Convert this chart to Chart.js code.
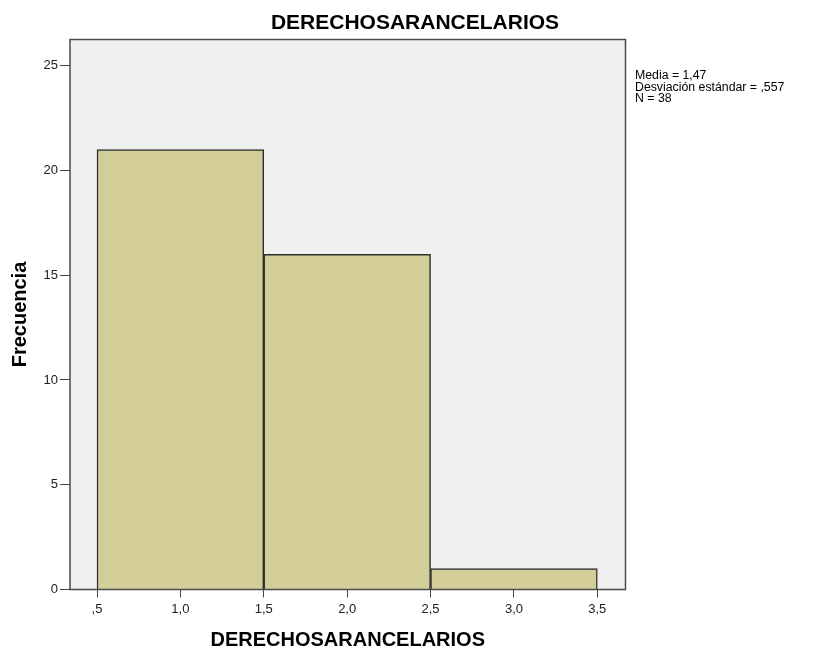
<!DOCTYPE html>
<html>
<head>
<meta charset="utf-8">
<script src="https://cdn.jsdelivr.net/npm/chart.js@4/dist/chart.umd.min.js"></script>
<style>
  html, body { margin: 0; padding: 0; background: #ffffff; }
  #wrap { width: 813px; height: 648px; }
</style>
</head>
<body>
<div id="wrap"><canvas id="c" width="813" height="648"></canvas></div>
<script>
// ---- data ----
const chartTitle = 'DERECHOSARANCELARIOS';
const xAxisTitle = 'DERECHOSARANCELARIOS';
const yAxisTitle = 'Frecuencia';
const binCenters = [1, 2, 3];
const frequencies = [21, 16, 1];
const xTickLabels = [',5', '1,0', '1,5', '2,0', '2,5', '3,0', '3,5'];
const statsLines = ['Media = 1,47', 'Desviación estándar = ,557', 'N = 38'];

const FONT = "'Liberation Sans', Arial, sans-serif";

const framePlugin = {
  id: 'frame',
  beforeDraw(chart) {
    const a = chart.chartArea, ctx = chart.ctx;
    ctx.save();
    ctx.fillStyle = '#f0f0f0';
    ctx.fillRect(a.left, a.top, a.right - a.left, a.bottom - a.top);
    ctx.restore();
  },
  afterDatasetsDraw(chart) {
    const a = chart.chartArea, ctx = chart.ctx;
    ctx.save();
    ctx.strokeStyle = '#4a4a4a';
    ctx.lineWidth = 1.5;
    ctx.strokeRect(a.left, a.top, a.right - a.left, a.bottom - a.top);
    ctx.restore();
  },
  afterDraw(chart) {
    const ctx = chart.ctx;
    ctx.save();
    ctx.fillStyle = '#000';
    ctx.font = 'bold 21px ' + FONT;
    ctx.textAlign = 'center';
    ctx.textBaseline = 'middle';
    ctx.fillText(chartTitle, 415, 23);
    ctx.font = '12.3px ' + FONT;
    ctx.textAlign = 'left';
    ctx.textBaseline = 'alphabetic';
    statsLines.forEach((t, i) => ctx.fillText(t, 635, 79 + i * 11.5));
    ctx.restore();
  }
};

new Chart(document.getElementById('c'), {
  type: 'bar',
  data: {
    datasets: [{
      data: binCenters.map((x, i) => ({ x: x, y: frequencies[i] })),
      backgroundColor: '#d3ce98',
      borderColor: '#2e2e2e',
      borderWidth: 1.5,
      barPercentage: 1,
      categoryPercentage: 1,
      barThickness: 'flex'
    }]
  },
  options: {
    responsive: false,
    devicePixelRatio: 1,
    animation: false,
    layout: { padding: { top: 39.5, right: 187.5, left: 0, bottom: 0 } },
    plugins: {
      legend: { display: false },
      title: { display: false },
      tooltip: { enabled: false }
    },
    scales: {
      x: {
        type: 'linear',
        min: 0.338,
        max: 3.669,
        offset: false,
        ticks: {
          stepSize: 0.5,
          includeBounds: false,
          autoSkip: false,
          maxRotation: 0,
          padding: 4,
          color: '#222',
          font: { family: FONT, size: 13 },
          callback: (v, i) => xTickLabels[i]
        },
        grid: { display: true, offset: false, drawOnChartArea: false, drawTicks: true, tickLength: 8, color: '#444', lineWidth: 1 },
        border: { display: false },
        title: {
          display: true,
          text: xAxisTitle,
          color: '#000',
          font: { family: FONT, size: 20, weight: 'bold', lineHeight: 1.2 },
          padding: { top: 0, bottom: -4 }
        },
        afterFit(s) { s.height = 58.5; s.paddingLeft = 0; s.paddingRight = 0; }
      },
      y: {
        type: 'linear',
        min: 0,
        max: 26.25,
        ticks: {
          stepSize: 5,
          includeBounds: false,
          padding: 2,
          color: '#222',
          font: { family: FONT, size: 13 },
          callback: (v) => String(v)
        },
        grid: { display: true, offset: false, drawOnChartArea: false, drawTicks: true, tickLength: 10, color: '#444', lineWidth: 1 },
        border: { display: false },
        title: {
          display: true,
          text: yAxisTitle,
          color: '#000',
          font: { family: FONT, size: 20, weight: 'bold', lineHeight: 1.2 },
          padding: { top: 8, bottom: 0 }
        },
        afterFit(s) { s.width = 70; s.paddingTop = 0; s.paddingBottom = 0; }
      }
    }
  },
  plugins: [framePlugin]
});
</script>
</body>
</html>
